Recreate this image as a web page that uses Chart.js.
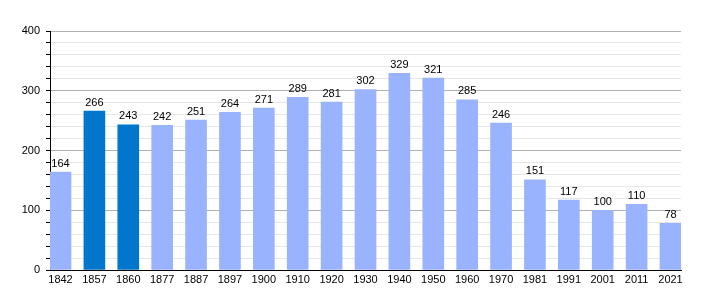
<!DOCTYPE html>
<html lang="fr">
<head>
<meta charset="UTF-8">
<title>Population</title>
<script src="https://cdn.jsdelivr.net/npm/chart.js@4.4.0/dist/chart.umd.min.js"></script>
<style>
  body { margin: 0; padding: 0; background: #fff; }
  #wrap { width: 710px; height: 300px; }
</style>
</head>
<body>
<div id="wrap"><canvas id="chart" width="710" height="300"></canvas></div>
<script>
  var years = ['1842', '1857', '1860', '1877', '1887', '1897', '1900', '1910', '1920', '1930',
               '1940', '1950', '1960', '1970', '1981', '1991', '2001', '2011', '2021'];
  var population = [164, 266, 243, 242, 251, 264, 271, 289, 281, 302,
                    329, 321, 285, 246, 151, 117, 100, 110, 78];
  var highlighted = ['1857', '1860'];
  var yTicks = [0, 100, 200, 300, 400];

  var lightBlue = '#99b3ff';
  var darkBlue = '#0077cc';

  // value labels above each bar
  var barLabels = {
    id: 'barLabels',
    afterDatasetsDraw: function (chart) {
      var ctx = chart.ctx;
      var meta = chart.getDatasetMeta(0);
      ctx.save();
      ctx.font = '11px "Liberation Sans", Arial, sans-serif';
      ctx.fillStyle = '#000';
      ctx.textAlign = 'center';
      ctx.textBaseline = 'bottom';
      meta.data.forEach(function (bar, i) {
        ctx.fillText(population[i], bar.x, bar.y - 3);
      });
      ctx.restore();
    }
  };

  var points = population.map(function (v, i) { return { x: i, y: v }; });

  new Chart(document.getElementById('chart'), {
    type: 'bar',
    data: {
      datasets: [{
        data: points,
        backgroundColor: years.map(function (y) {
          return highlighted.indexOf(y) >= 0 ? darkBlue : lightBlue;
        }),
        barThickness: 21,
        borderWidth: 0
      }]
    },
    plugins: [barLabels],
    options: {
      responsive: false,
      animation: false,
      layout: { padding: { top: 31, right: 29, left: 0, bottom: 0 } },
      plugins: { legend: { display: false }, tooltip: { enabled: false } },
      scales: {
        x: {
          type: 'linear',
          offset: false,
          min: -0.31,
          max: 18.31,
          grid: { display: false, drawTicks: false },
          border: { color: '#000', width: 1 },
          ticks: {
            stepSize: 1,
            includeBounds: false,
            autoSkip: false,
            maxRotation: 0,
            padding: 3,
            color: '#000',
            font: { family: '"Liberation Sans", Arial, sans-serif', size: 11 },
            callback: function (v) {
              return Number.isInteger(v) ? years[v] : '';
            }
          },
          afterFit: function (scale) { scale.height = 30; }
        },
        y: {
          min: yTicks[0],
          max: yTicks[yTicks.length - 1],
          border: { color: '#000', width: 1 },
          grid: {
            color: function (c) {
              return c.tick.value % 100 === 0 ? '#b0b0b0' : '#e6e6e6';
            },
            tickColor: '#000',
            tickLength: 4
          },
          ticks: {
            stepSize: 20,
            autoSkip: false,
            padding: 6,
            color: '#000',
            font: { family: '"Liberation Sans", Arial, sans-serif', size: 11 },
            callback: function (v) {
              return yTicks.indexOf(v) >= 0 ? v : '';
            }
          },
          afterFit: function (scale) { scale.width = 50; }
        }
      }
    }
  });
</script>
</body>
</html>
